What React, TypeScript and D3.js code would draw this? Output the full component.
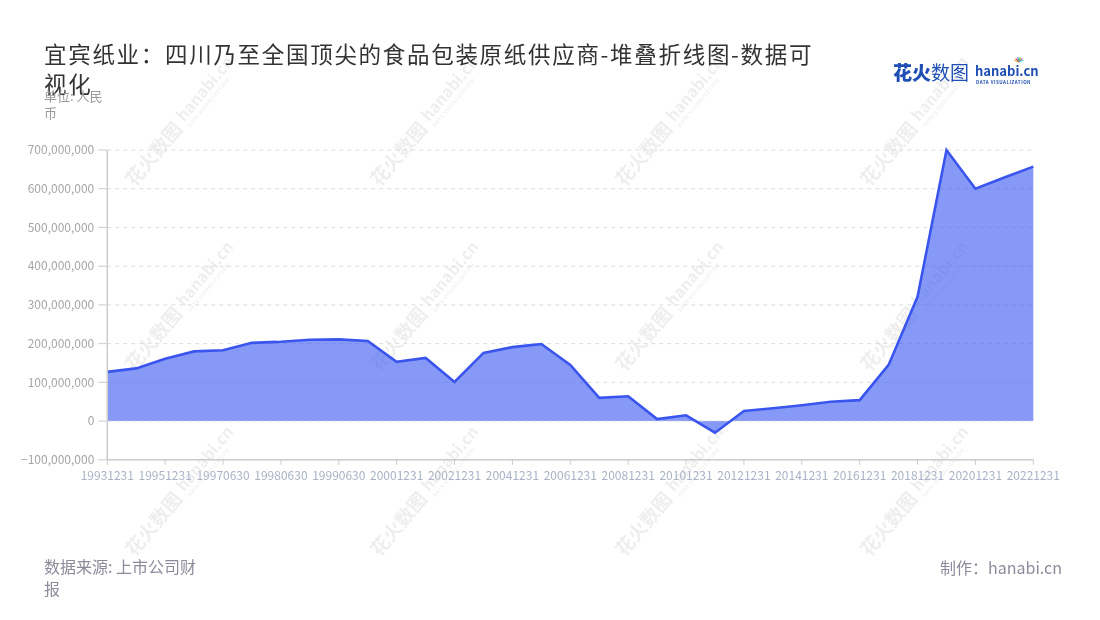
import React from "react";
import * as d3 from "d3";

const categories = [
  "19931231", "19941231", "19951231", "19961231", "19970630", "19971231",
  "19980630", "19981231", "19990630", "19991231", "20001231", "20011231",
  "20021231", "20031231", "20041231", "20051231", "20061231", "20071231",
  "20081231", "20091231", "20101231", "20111231", "20121231", "20131231",
  "20141231", "20151231", "20161231", "20171231", "20181231", "20191231",
  "20201231", "20211231", "20221231",
];

const values = [
  127e6, 136e6, 161e6, 180e6, 183e6, 202e6, 205e6, 210e6, 211e6, 207e6,
  153e6, 163e6, 101e6, 176e6, 191e6, 199e6, 145e6, 60e6, 64e6, 5e6,
  15e6, -30e6, 26e6, 33e6, 41e6, 50e6, 54e6, 145e6, 321e6, 700e6,
  600e6, 629e6, 657e6,
];

const yTicks = [-100e6, 0, 100e6, 200e6, 300e6, 400e6, 500e6, 600e6, 700e6];

const titleLines = ["宜宾纸业：四川乃至全国顶尖的食品包装原纸供应商-堆叠折线图-数据可", "视化"];
const unitLines = ["单位: 人民", "币"];
const sourceLines = ["数据来源: 上市公司财", "报"];
const credit = "制作：hanabi.cn";

const FONT = "'Noto Sans CJK SC', 'Noto Sans', sans-serif";

export default function App() {
  const W = 1100, H = 620;
  const left = 107.3, right = 1033.3, top = 150, bottom = 459.8;
  const x = d3.scalePoint<string>().domain(categories).range([left, right]);
  const y = d3.scaleLinear().domain([-100e6, 700e6]).range([bottom, top]);
  const fmt = d3.format(",");

  const area = d3.area<number>()
    .x((_, i) => x(categories[i])!)
    .y0(y(0))
    .y1((d) => y(d));
  const line = d3.line<number>()
    .x((_, i) => x(categories[i])!)
    .y((d) => y(d));

  const labelled = categories.filter((_, i) => i % 2 === 0);

  const wmCols = [180, 425, 670, 915];
  const wmRows = [124, 309, 494];

  return (
    <svg width={W} height={H} style={{ position: "absolute", left: 0, top: 0, fontFamily: FONT }}>
      <rect width={W} height={H} fill="#fff" />

      {/* watermarks */}
      <g opacity={0.07} fill="#000">
        {wmCols.flatMap((cx) =>
          wmRows.map((cy) => (
            <g key={`${cx}-${cy}`} transform={`translate(${cx},${cy}) rotate(-50)`}>
              <text x={-78} y={6} fontSize={19} fontWeight={700}>花火数图</text>
              <text x={4} y={2} fontSize={16} fontWeight={700}>hanabi.cn</text>
              <text x={4} y={10} fontSize={5} fontWeight={700} letterSpacing={0.6}>DATA VISUALIZATION</text>
            </g>
          ))
        )}
      </g>

      {/* grid */}
      {yTicks.map((t) => (
        <line key={t} x1={left} x2={right} y1={y(t)} y2={y(t)} stroke="#dcdcdc" strokeDasharray="4,4" strokeWidth={1} />
      ))}

      {/* area */}
      <path d={area(values)!} fill="#3d5af1" fillOpacity={0.62} />
      <line x1={left} x2={right} y1={y(0)} y2={y(0)} stroke="#e4e4f4" strokeDasharray="4,4" strokeWidth={1} opacity={0.7} />
      <path d={line(values)!} fill="none" stroke="#3a55ee" strokeWidth={2.6} strokeLinejoin="miter" />

      {/* y axis */}
      <line x1={left} x2={left} y1={top} y2={bottom} stroke="#cccccc" strokeWidth={1.5} />
      {yTicks.map((t) => (
        <g key={t}>
          <line x1={left - 9} x2={left} y1={y(t)} y2={y(t)} stroke="#cccccc" strokeWidth={1} />
          <text x={left - 13} y={y(t)} dy="0.35em" textAnchor="end" fontSize={12} fill="#a6a6a6">
            {fmt(t)}
          </text>
        </g>
      ))}

      {/* x axis */}
      <line x1={left} x2={right} y1={bottom} y2={bottom} stroke="#cccccc" strokeWidth={1.5} />
      {labelled.map((c) => (
        <g key={c}>
          <line x1={x(c)} x2={x(c)} y1={bottom} y2={bottom + 5} stroke="#cccccc" strokeWidth={1} />
          <text x={x(c)} y={bottom + 20} textAnchor="middle" fontSize={12} fill="#aab2c6">{c}</text>
        </g>
      ))}

      {/* title */}
      {titleLines.map((l, i) => (
        <text key={l} x={44} y={63 + i * 30} fontSize={22.5} letterSpacing={1.7} fill="#333">{l}</text>
      ))}
      {unitLines.map((l, i) => (
        <text key={l} x={44} y={101 + i * 17} fontSize={13} fill="#999">{l}</text>
      ))}

      {/* logo */}
      <g>
        <text x={893} y={80} fontSize={19} fontWeight={900} fill="#1f4fb5">花火</text>
        <text x={931} y={80} fontSize={19} fill="#1f4fb5">数图</text>
        <text x={975} y={76} fontSize={13} fontWeight={700} fill="#1f4fb5">hanabi.cn</text>
        <text x={976} y={84} fontSize={4.5} fontWeight={700} fill="#1f4fb5" letterSpacing={0.5}>DATA VISUALIZATION</text>
        <g transform="translate(1019,62)">
          {["#f5a623", "#e94e77", "#4a90e2", "#7ed321", "#9b59b6", "#50e3c2"].map((c, i) => (
            <line key={c} x1={0} y1={0} x2={Math.cos((-160 + i * 28) * Math.PI / 180) * 5} y2={Math.sin((-160 + i * 28) * Math.PI / 180) * 5} stroke={c} strokeWidth={1.2} />
          ))}
        </g>
      </g>

      {/* footer */}
      {sourceLines.map((l, i) => (
        <text key={l} x={44} y={573 + i * 22} fontSize={16} fill="#8b8b9b">{l}</text>
      ))}
      <text x={1062} y={574} textAnchor="end" fontSize={16} fill="#8b8b9b">{credit}</text>
    </svg>
  );
}
